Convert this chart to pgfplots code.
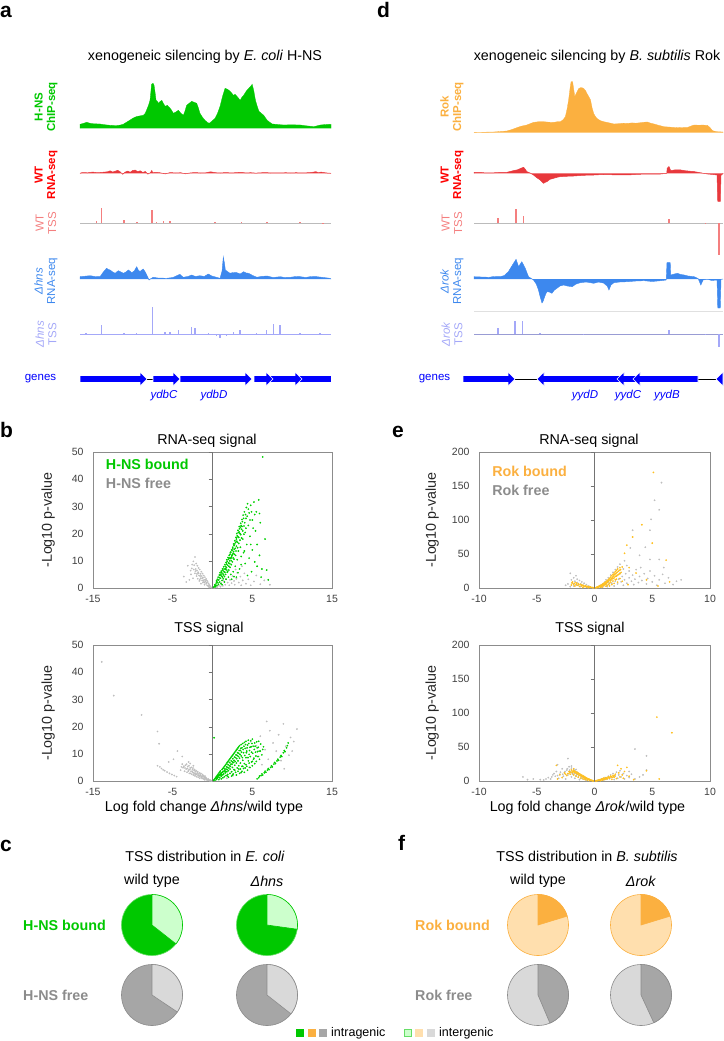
\documentclass[border=0pt]{standalone}
\usepackage{fontspec}
\setmainfont{Liberation Sans}
\usepackage{pgfplots}
\pgfplotsset{compat=1.18}
\usepgfplotslibrary{polar}

\definecolor{hnsG}{HTML}{00C800}
\definecolor{ptG}{HTML}{00D000}
\definecolor{lgtG}{HTML}{CCFFCC}
\definecolor{edgeG}{HTML}{66DD66}
\definecolor{rokO}{HTML}{FBB040}
\definecolor{ptO}{HTML}{FFC020}
\definecolor{lgtO}{HTML}{FFDFAE}
\definecolor{wtR}{HTML}{E8383C}
\definecolor{lblR}{HTML}{FF0000}
\definecolor{tssR}{HTML}{F47F7F}
\definecolor{dB}{HTML}{3D88EE}
\definecolor{tssB}{HTML}{A4A8F8}
\definecolor{geneB}{HTML}{0000FF}
\definecolor{gD}{HTML}{A6A6A6}
\definecolor{gL}{HTML}{D9D9D9}
\definecolor{gE}{HTML}{8C8C8C}
\definecolor{ptGr}{HTML}{BEBEBE}
\definecolor{baseG}{HTML}{BBBBBB}

\newcommand\fbig{\fontsize{14.3}{16}\selectfont}
\newcommand\ftrk{\fontsize{11.5}{12.5}\selectfont}
\newcommand\ftick{\fontsize{10.5}{12}\selectfont}

\pgfplotsset{
  trackA/.style={hide axis, scale only axis, anchor=south west, width=251pt,
    xmin=0, xmax=100, y=1pt, clip=false},
  trackD/.style={trackA, width=249pt},
  genes/.style={hide axis, scale only axis, anchor=south west, x=1pt, y=1pt,
    ymin=-8, ymax=8, clip=false},
  volc/.style={scale only axis, anchor=south west, height=136pt,
    axis line style={draw=black!45}, major tick length=0pt,
    tick label style={font=\ftick, text=black!75},
    /pgf/number format/assume math mode=true,
    yticklabel style={xshift=-6pt}, xticklabel style={yshift=-4pt},
    label style={font=\fbig, text=black!85}},
  zeroline/.style={scale only axis, anchor=south west, height=136pt,
    axis x line=none, axis y line=center, axis line style={draw=black!55, -},
    yticklabels={}, xtick=\empty, tick align=outside, major tick length=4pt,
    ytick style={draw=black!55}},
  pts/.style={only marks, mark=*, mark size=0.65pt},
  pie/.style={hide axis, scale only axis, width=61pt, height=61pt, anchor=center,
    xmin=0, xmax=360, ymin=0, ymax=1, clip=false},
}

\begin{document}
\begin{tikzpicture}
\useasboundingbox (0pt,0pt) rectangle (723pt,-1041pt);

% ---------------- panel letters and titles
\begin{scope}[every node/.style={inner sep=0pt, anchor=base west, font=\fontsize{21}{21}\selectfont\bfseries}]
\node at (0pt,-18pt) {a};
\node at (377pt,-18pt) {d};
\node at (0pt,-437pt) {b};
\node at (392pt,-437pt) {e};
\node at (0pt,-851pt) {c};
\node at (398pt,-850pt) {f};
\end{scope}
\node[font=\fbig] at (205pt,-57pt) {xenogeneic silencing by \textit{E. coli} H-NS};
\node[font=\fbig] at (597pt,-57pt) {xenogeneic silencing by \textit{B. subtilis} Rok};

% ---------------- track labels
\begin{scope}[every node/.style={rotate=90, align=center, font=\ftrk, inner sep=0pt}]
\node[text=hnsG, font=\ftrk\bfseries] at (46pt,-107pt) {H-NS\\ChIP-seq};
\node[text=lblR, font=\ftrk\bfseries] at (46pt,-175pt) {WT\\RNA-seq};
\node[text=tssR] at (46pt,-223pt) {WT\\TSS};
\node[text=dB] at (46pt,-281pt) {\textit{Δhns}\\RNA-seq};
\node[text=tssB] at (46pt,-334pt) {\textit{Δhns}\\TSS};
\node[text=rokO, font=\ftrk\bfseries] at (452pt,-107pt) {Rok\\ChIP-seq};
\node[text=lblR, font=\ftrk\bfseries] at (452pt,-175pt) {WT\\RNA-seq};
\node[text=tssR] at (452pt,-223pt) {WT\\TSS};
\node[text=dB] at (452pt,-281pt) {\textit{Δrok}\\RNA-seq};
\node[text=tssB] at (452pt,-334pt) {\textit{Δrok}\\TSS};
\end{scope}
\node[text=geneB, font=\ftrk] at (40.5pt,-379pt) {genes};
\node[text=geneB, font=\ftrk] at (434.5pt,-379pt) {genes};
\begin{scope}[every node/.style={text=geneB, font=\ftrk\itshape}]
\node at (164pt,-396pt) {ydbC};
\node at (214pt,-396pt) {ydbD};
\node at (585pt,-396pt) {yydD};
\node at (628pt,-396pt) {yydC};
\node at (667pt,-396pt) {yydB};
\end{scope}

% ================= panel a tracks
\begin{axis}[trackA, at={(80pt,-128.3pt)}, ymin=0, ymax=46]
\addplot[fill=hnsG, draw=hnsG, line width=0.3pt] coordinates {
(0,0)(0,4)(1.5,5)(2.7,6)(4,5)(5.5,4.5)(7.9,4.3)(10,3.5)(12,3)(14.5,2.7)(16,3.2)(17.2,4)
(18.5,6)(19.8,8)(21,10)(22.5,11.7)(24,12.5)(25.2,13)(26,15)(26.5,18)(27.3,23)(27.9,28)
(28.3,38)(28.5,44)(29.1,45)(29.5,43)(29.9,36)(30.3,28)(30.8,27)(31.2,25)(32,27)(32.6,28)
(33.2,25)(33.9,22)(34.8,23)(35.9,20)(36.5,18)(37.2,15)(38,16)(39.2,18)(40.2,15)(41.2,13)
(41.8,17)(42.5,23)(43.5,25)(44.5,27)(45.5,26)(46.5,25)(47.2,20)(47.8,15)(48.8,11)(49.8,8)
(50.7,6)(51.5,5)(52.5,7)(53.8,10)(54.8,15)(55.8,22)(56.8,32)(57.8,40)(58.8,39)(59.8,37)
(60.5,35)(61.1,33)(61.8,34)(62.5,32)(63.2,30)(63.8,28)(64.5,31)(65.2,33)(66.2,37)(67.2,40)
(68,42)(68.6,44)(69.2,38)(69.9,28)(70.6,22)(71.3,17)(72.2,15)(73.2,13)(74,10)(74.6,8)
(75.6,6)(76.6,4.3)(78,4)(80,3.5)(81.2,3.3)(84,3.5)(87.8,3.3)(90,2.5)(93.2,1.7)(94.5,2.5)
(95.8,3.3)(98,3.8)(100,4)(100,0)};
\end{axis}

\begin{axis}[trackA, at={(80pt,-178.3pt)}, ymin=-5, ymax=5]
\addplot[fill=wtR, draw=wtR, line width=0.5pt] coordinates {
(0,0)(1,0.8)(3,0.5)(5,1.2)(7,0.6)(9,1.0)(11,1.5)(12,2.5)(13,1.2)(14,2.0)(15,3.0)(16,1.5)
(17,-1.0)(18,1.2)(19,2.2)(20,1.0)(21,2.8)(22,3.2)(23,1.5)(24,2.5)(25,0.8)(26,1.8)(27,-0.8)
(28,0.5)(28.6,2.8)(29,0.5)(30,1.0)(32,0.5)(34,-0.6)(36,0.8)(38,0.3)(40,0.6)(42,-0.5)(44,0.4)
(46,0.8)(48,0.3)(50,0.5)(52,1.5)(54,0.6)(56,0.3)(58,0.8)(60,0.4)(62,0.6)(64,1.0)(66,0.4)
(68,0.6)(70,0.2)(72,0.5)(74,0.8)(76,0.3)(78,0.5)(80,0.4)(82,0.6)(84,0.3)(86,0.6)(88,0.4)
(90,0.5)(92,0.8)(94,1.6)(95,0.6)(96,1.2)(98,0.4)(100,0)};
\end{axis}

\begin{axis}[trackA, at={(80pt,-226.3pt)}, ymin=-3, ymax=16]
\addplot[baseG, line width=0.8pt] coordinates {(0,0)(100,0)};
\addplot[ycomb, tssR, line width=1.6pt] coordinates {
(6.6,2.7)(8.6,15)(17.5,3)(22.6,1.5)(28.6,13)(30.5,1.5)(33.2,2)(35.9,2)(53.8,1.5)(64.4,1.5)
(74.4,1)(87.6,1)(96.9,-1)};
\end{axis}

\begin{axis}[trackA, at={(80pt,-282pt)}, ymin=-3, ymax=23]
\addplot[fill=dB, draw=dB, line width=0.4pt] coordinates {
(0,0)(0,2.3)(2,2.8)(4,3.3)(6,2.5)(8,2.3)(9.3,7)(10,9)(10.6,10.7)(11.3,9.5)(12,9)(13,7)(14,5.7)
(14.6,7)(15.3,8.3)(16.3,7)(17.3,5.7)(18.3,7)(19.3,9)(20.6,6.3)(21.6,8)(22.6,12.3)(23.2,9)
(23.9,7.3)(24.6,9)(25.2,10)(26,7)(26.6,4)(27.5,-1)(28.3,0.5)(29.2,1.7)(31,1)(34.5,0.7)
(37,1.5)(39.8,4.7)(41.1,1.7)(43,2.5)(44.5,4)(46,2.5)(47.8,3.3)(49.5,2.5)(51.1,5)(52.5,3)
(54.4,1.7)(55.8,0.7)(56.6,8)(57.1,22)(57.6,15)(57.9,9)(59,7)(59.8,5.7)(61,6.5)(62.5,6.3)
(63.8,5)(65.2,7.3)(66.2,6)(67.2,5.7)(68.8,3.5)(70.5,1.7)(72,2.5)(74.5,3)(77,1.5)(79.8,2.3)
(81.5,1.5)(83.8,1.7)(86,2.5)(87.8,2.3)(90,1.5)(92,2.5)(94.4,2.3)(97,1.5)(99.6,0.7)(100,0)};
\end{axis}

\begin{axis}[trackA, at={(80pt,-339.3pt)}, ymin=-5, ymax=28]
\addplot[tssB, line width=0.8pt] coordinates {(0,0)(100,0)};
\addplot[ycomb, tssB, line width=1.4pt] coordinates {
(2.4,1)(8.6,9.3)(17.5,1)(22.6,1)(28.9,27)(33.9,2)(35.9,2)(39.2,4)(44.5,7)(45.8,6)(51.1,1)
(54.4,-2)(55.8,-4)(58.4,-2)(61.1,2)(63.7,4)(70.4,1)(74.4,4)(77,10)(79.7,9)(87.6,1)(95.6,1)};
\end{axis}

\begin{axis}[genes, at={(80pt,-387pt)}, xmin=0, xmax=251]
\addplot[black, line width=0.6pt] coordinates {(67,0)(73,0)};
\addplot[fill=geneB, draw=white, line width=0.6pt] coordinates {(215,-3.5)(251,-3.5)(251,3.5)(215,3.5)} -- cycle;
\addplot[fill=geneB, draw=white, line width=0.6pt] coordinates {(186,-3.5)(215,-3.5)(215,-7)(222,0)(215,7)(215,3.5)(186,3.5)} -- cycle;
\addplot[fill=geneB, draw=white, line width=0.6pt] coordinates {(174,-3.5)(186,-3.5)(186,-7)(193,0)(186,7)(186,3.5)(174,3.5)} -- cycle;
\addplot[fill=geneB, draw=white, line width=0.6pt] coordinates {(100,-3.5)(165,-3.5)(165,-7)(172,0)(165,7)(165,3.5)(100,3.5)} -- cycle;
\addplot[fill=geneB, draw=white, line width=0.6pt] coordinates {(73,-3.5)(93,-3.5)(93,-7)(100,0)(93,7)(93,3.5)(73,3.5)} -- cycle;
\addplot[fill=geneB, draw=white, line width=0.6pt] coordinates {(0,-3.5)(60,-3.5)(60,-7)(67,0)(60,7)(60,3.5)(0,3.5)} -- cycle;
\end{axis}

% ================= panel d tracks
\begin{axis}[trackD, at={(474pt,-132.7pt)}, ymin=0, ymax=52]
\addplot[fill=rokO, draw=rokO, line width=0.3pt] coordinates {
(0,0)(0,0.3)(4,0.5)(7.8,0.7)(10.5,1.2)(13.2,1.7)(15,3)(17.2,5)(19,6.5)(21.2,7.7)(22.5,9)
(23.9,10.3)(26,11)(27.9,11)(30,10.5)(32,10.3)(33.5,11)(34.7,11)(35.8,13)(36.7,16)(37.4,24)
(38,32.7)(38.6,45)(39,51)(39.6,51)(40,44)(40.5,36)(41,39)(41.4,41)(42,44)(42.7,45)(43.4,45)
(44.1,44)(44.8,42)(45.4,39)(46.1,36)(46.8,32.7)(47.4,25)(48.1,19)(48.8,16)(49.5,14)(50.8,12)
(52.1,11)(54,10)(56.2,8.7)(58,9)(60,9.5)(61.6,9.3)(63.5,9.8)(65,9.5)(66.9,10)(68.5,10.5)
(69.6,10.7)(71,9.5)(72.3,8.7)(74,7.5)(76.3,6)(79,5.5)(81.7,5)(84,5.2)(85.8,5.3)(87,6.5)
(88.4,7.7)(90,7.5)(92,7.6)(93.8,7.3)(94.8,5)(95.8,2)(97.5,1)(100,0.7)(100,0)};
\end{axis}

\begin{axis}[trackD, at={(474pt,-203.3pt)}, ymin=-30, ymax=8]
\addplot[fill=wtR, draw=wtR, line width=0.5pt] coordinates {
(0,0)(0,1)(3,0.8)(5,0.3)(7.8,0.5)(10,0.8)(13.2,1)(14.5,1.8)(15.9,2.7)(17.5,3.5)(18.8,5)
(19.9,6)(20.6,4)(21.2,1.7)(22.5,0.3)(23.9,-1.7)(25,-4)(26.6,-6.7)(27.3,-8.5)(27.9,-10)
(28.6,-9)(29.3,-8.3)(30.5,-6)(32,-5)(33.3,-4)(34.7,-3.3)(37,-3)(40,-2.7)(44,-2)(48.1,-1.7)
(52,-1.2)(56,-1.5)(61.6,-1.7)(66,-1)(70,-0.8)(75,-0.7)(77.4,0)(77.6,5)(78.3,6.7)(79,2.7)
(81,3.5)(83.1,3.3)(85,2.5)(88.4,1.7)(91,0.5)(93.8,-0.7)(96,-1.2)(97.6,-1.7)(97.9,-28)
(98.9,-28)(99.2,-1.7)(100,-0.5)(100,0)};
\end{axis}

\begin{axis}[trackD, at={(474pt,-256.3pt)}, ymin=-33, ymax=15]
\addplot[baseG, line width=0.8pt] coordinates {(0,0)(100,0)};
\addplot[ycomb, tssR, line width=1.6pt] coordinates {
(9.7,5)(16.9,14)(19.8,7)(78.2,4)(93,0.7)(98.4,-32)};
\end{axis}

\begin{axis}[trackD, at={(474pt,-309pt)}, ymin=-30, ymax=22]
\addplot[fill=dB, draw=dB, line width=0.4pt] coordinates {
(0,0)(0,2.3)(3,2)(6,1.7)(8,2.5)(10.5,2.3)(12.2,3.5)(13.8,7.3)(15.2,13)(16.2,17)(16.9,19.7)
(17.4,16)(17.9,12.3)(18.6,15)(19.2,17.3)(19.9,14)(20.6,10.7)(21.3,6)(21.9,2.3)(23,0.5)
(23.9,-1)(25,-5)(25.9,-11)(26.6,-18)(27.3,-24)(27.8,-22)(28.2,-19)(28.8,-15)(29.3,-12.7)
(30.3,-13)(31.3,-14.3)(32.3,-11)(33.3,-9.3)(34.5,-7)(36,-6)(37.5,-7)(39.4,-7.7)(41,-5)
(42.7,-3.7)(45,-3)(48.1,-4.3)(50,-3)(52,-4)(53.5,-7)(54.2,-11)(55,-6)(56.2,-3.7)(58.5,-3)
(61.6,-2.7)(65,-2)(68.3,-1.7)(71.5,-2.5)(75,-1.7)(77.2,-1)(77.5,16.3)(78.8,16.3)(79,4)
(80.5,5)(81.7,5.7)(83,4.5)(84.4,4)(86,3)(88.4,2.3)(90,0.5)(91.1,-6)(92,-1)(93.8,-0.3)
(95.5,-1.5)(97.6,-1)(97.9,-29)(98.9,-29)(99.2,-0.3)(100,0)};
\end{axis}

\begin{axis}[trackD, at={(474pt,-348pt)}, ymin=-14, ymax=23]
\addplot[black!12, line width=0.6pt] coordinates {(0,22.3)(100,22.3)};
\addplot[tssB!70!gray, line width=0.8pt] coordinates {(0,0)(100,0)};
\addplot[ycomb, tssB, line width=1.6pt] coordinates {
(9.7,6)(16.5,13)(19.4,13)(26.6,0.7)(44,0.5)(78.2,4)(93,0.5)(98.4,-13)};
\end{axis}

\begin{axis}[genes, at={(463pt,-387pt)}, xmin=0, xmax=260]
\addplot[black, line width=0.6pt] coordinates {(52,0)(74,0)};
\addplot[black, line width=0.6pt] coordinates {(235,0)(253,0)};
\addplot[fill=geneB, draw=white, line width=0.6pt] coordinates {(0,-3.5)(45,-3.5)(45,-7)(52,0)(45,7)(45,3.5)(0,3.5)} -- cycle;
\addplot[fill=geneB, draw=white, line width=0.6pt] coordinates {(74,0)(81,-7)(81,-3.5)(161,-3.5)(161,3.5)(81,3.5)(81,7)} -- cycle;
\addplot[fill=geneB, draw=white, line width=0.6pt] coordinates {(154,0)(161,-7)(161,-3.5)(177,-3.5)(177,3.5)(161,3.5)(161,7)} -- cycle;
\addplot[fill=geneB, draw=white, line width=0.6pt] coordinates {(170,0)(177,-7)(177,-3.5)(235,-3.5)(235,3.5)(177,3.5)(177,7)} -- cycle;
\addplot[fill=geneB, draw=white, line width=0.6pt] coordinates {(253,0)(260,-7)(260,7)} -- cycle;
\end{axis}

% ================= panel b volcano plots
\node[font=\fbig] at (207pt,-441pt) {RNA-seq signal};
\begin{axis}[volc, at={(93pt,-588pt)}, width=239pt, xmin=-15, xmax=15, ymin=0, ymax=50,
  xtick={-15,-5,5,15}, xticklabels={-15,-5,5,15}, ytick={0,10,...,50},
  ylabel={-Log10 p-value}, ylabel style={at={(axis description cs:-0.188,0.5)}, anchor=center}]
\addplot[pts, ptGr] coordinates {
(-0.1,0.1)(-0.2,0.3)(-0.3,0.7)(-0.35,0.2)(-0.4,1.1)(-0.5,0.5)(-0.5,1.6)(-0.6,2.2)(-0.65,0.9)
(-0.7,2.7)(-0.8,1.5)(-0.8,3.3)(-0.9,2.4)(-0.95,4.0)(-1.0,1.2)(-1.05,3.0)(-1.1,4.6)(-1.2,2.0)
(-1.2,3.8)(-1.25,5.3)(-1.3,2.8)(-1.35,4.4)(-1.4,6.0)(-1.45,1.6)(-1.5,3.6)(-1.5,5.2)(-1.6,6.8)
(-1.65,2.6)(-1.7,4.6)(-1.75,7.4)(-1.8,5.8)(-1.85,3.4)(-1.9,8.2)(-1.95,6.4)(-2.0,4.4)(-2.05,9.0)
(-2.1,7.0)(-2.2,11.4)(-2.2,5.4)(-2.3,8.4)(-2.4,9.8)(-2.45,3.6)(-2.6,7.2)(-2.7,5.0)(-2.9,3.0)
(-3.1,8.2)(-3.6,4.2)(-3.3,2.2)
(-0.45,0.8)(-0.75,1.9)(-0.9,3.0)(-1.15,2.6)(-1.3,3.6)(-1.55,4.4)(-1.75,5.4)(-1.95,5.2)
(-2.15,6.2)(-2.35,6.8)(-2.55,8.6)(-2.75,6.4)(-1.6,3.0)(-1.0,2.0)
(0.2,0.1)(0.4,0.3)(0.6,0.4)(0.8,0.9)(1.0,0.5)(1.1,1.8)(1.3,0.8)(1.4,2.6)(1.6,1.2)(1.7,3.4)
(1.9,2.0)(2.1,1.0)(2.2,3.0)(2.4,1.8)(2.5,4.4)(2.7,2.6)(2.8,1.2)(3.0,3.4)(3.1,5.6)(3.3,2.0)
(3.5,4.2)(3.6,1.0)(3.8,2.8)(4.0,5.4)(4.2,1.6)(4.5,3.2)(4.8,1.0)(5.2,2.4)(5.5,4.6)(6.0,1.4)
(6.5,2.8)(7.2,1.2)(3.7,8.0)(2.9,6.8)};
\addplot[pts, ptG] coordinates {
(0.15,0.3)(0.25,0.6)(0.3,1.2)(0.4,0.5)(0.45,1.8)(0.5,2.6)(0.55,1.0)(0.6,3.2)(0.65,2.0)(0.7,4.0)
(0.75,1.4)(0.8,3.0)(0.85,4.8)(0.9,2.2)(0.95,5.6)(1.0,3.6)(1.05,1.6)(1.1,6.2)(1.15,4.4)(1.2,2.8)
(1.25,7.0)(1.3,5.2)(1.35,3.4)(1.4,7.8)(1.45,6.0)(1.5,2.2)(1.5,4.2)(1.55,8.6)(1.6,6.8)(1.65,5.0)
(1.7,9.4)(1.7,3.2)(1.75,7.6)(1.8,10.4)(1.85,5.8)(1.9,8.4)(1.95,11.2)(2.0,4.0)(2.0,9.2)(2.05,6.6)
(2.1,12.0)(2.15,10.0)(2.2,7.6)(2.25,13.0)(2.3,5.0)(2.3,10.8)(2.35,8.6)(2.4,14.0)(2.45,12.0)
(2.5,9.6)(2.55,15.0)(2.6,6.0)(2.6,12.8)(2.65,16.2)(2.7,10.6)(2.75,14.2)(2.8,17.4)(2.85,8.0)
(2.9,12.0)(2.95,18.6)(3.0,15.4)(3.05,20.0)(3.1,10.4)(3.15,16.8)(3.2,21.2)(3.25,13.6)(3.3,18.6)
(3.35,22.6)(3.4,7.0)(3.45,20.0)(3.5,15.0)(3.55,23.8)(3.6,11.6)(3.65,21.6)(3.7,25.2)(3.8,18.0)
(3.85,26.8)(3.9,13.0)(3.95,22.8)(4.0,28.0)(4.1,9.0)(4.1,20.4)(4.2,25.6)(4.25,29.6)(4.3,16.0)
(4.4,31.0)(4.5,23.0)(4.6,11.0)(4.6,27.6)(4.7,19.0)(4.8,30.4)(4.9,6.0)(5.0,14.0)(5.0,25.0)
(5.2,31.6)(5.3,9.6)(5.4,21.0)(5.5,28.0)(5.6,16.0)(5.8,32.4)(5.9,12.0)(6.0,24.0)(6.2,7.0)
(6.3,48.2)(6.6,18.0)(6.8,6.6)(7.0,3.0)(3.0,4.0)(2.4,3.2)(1.2,1.2)(4.4,4.6)
(0.35,0.9)(0.55,2.2)(0.7,2.9)(0.85,3.8)(0.95,4.6)(1.05,5.0)(1.15,5.6)(1.25,4.0)(1.3,6.4)
(1.4,4.8)(1.45,7.0)(1.55,5.8)(1.6,8.0)(1.65,7.2)(1.75,8.8)(1.8,6.6)(1.85,9.8)(1.9,6.0)
(2.0,10.6)(2.05,8.0)(2.1,11.0)(2.15,9.0)(2.2,12.4)(2.25,11.0)(2.3,13.2)(2.35,10.0)(2.4,11.4)
(2.45,13.8)(2.5,12.4)(2.55,14.4)(2.6,11.0)(2.65,13.4)(2.7,15.6)(2.75,12.4)(2.8,16.2)(2.85,14.6)
(2.9,16.8)(2.95,13.6)(3.0,18.0)(3.05,17.2)(3.1,19.2)(3.15,14.8)(3.2,18.8)(3.25,20.4)(3.3,16.4)
(3.35,20.6)(3.4,21.8)(3.45,17.6)(3.5,22.4)(3.55,19.6)(3.6,23.0)(3.65,18.4)(3.7,22.6)(3.75,24.4)
(3.8,21.0)(3.9,25.6)(3.95,19.8)(4.05,24.0)(4.15,27.0)(4.2,22.0)(4.35,26.4)(4.5,29.0)(4.7,25.0)
(4.9,28.0)(5.1,22.0)(5.3,27.0)(3.6,8.6)(3.2,5.6)(2.7,4.2)(4.0,13.6)(4.8,16.0)(5.6,8.0)
(6.1,4.0)(5.9,27.4)};
\node[anchor=west, inner sep=0pt, font=\fbig\bfseries, text=hnsG] at (axis cs:-13.4,45.3) {H-NS bound};
\node[anchor=west, inner sep=0pt, font=\fbig\bfseries, text=gE] at (axis cs:-13.4,38.3) {H-NS free};
\end{axis}
\begin{axis}[zeroline, at={(93pt,-588pt)}, width=239pt, xmin=-15, xmax=15, ymin=0, ymax=50, ytick={10,20,...,50}]
\end{axis}

\node[font=\fbig] at (209pt,-629pt) {TSS signal};
\begin{axis}[volc, at={(93pt,-781pt)}, width=239pt, xmin=-15, xmax=15, ymin=0, ymax=50,
  xtick={-15,-5,5,15}, xticklabels={-15,-5,5,15}, ytick={0,10,...,50},
  ylabel={-Log10 p-value}, ylabel style={at={(axis description cs:-0.188,0.5)}, anchor=center}]
\addplot[pts, ptGr] coordinates {
(-0.1,0.05)(-0.2,0.1)(-0.3,0.2)(-0.4,0.15)(-0.5,0.4)(-0.6,0.3)(-0.7,0.6)(-0.8,0.4)(-0.9,0.9)
(-1.0,0.5)(-1.0,1.2)(-1.1,0.8)(-1.2,1.5)(-1.3,0.9)(-1.3,1.9)(-1.4,1.3)(-1.5,2.2)(-1.6,1.0)
(-1.6,1.7)(-1.7,2.6)(-1.8,1.4)(-1.8,2.1)(-1.9,3.0)(-2.0,1.6)(-2.0,2.4)(-2.1,3.4)(-2.2,1.9)
(-2.2,2.8)(-2.3,3.8)(-2.4,2.2)(-2.5,3.2)(-2.5,4.3)(-2.6,2.5)(-2.7,3.6)(-2.8,4.8)(-2.9,2.8)
(-3.0,4.0)(-3.1,5.3)(-3.2,3.2)(-3.3,4.4)(-3.4,5.8)(-3.5,3.6)(-3.7,4.9)(-3.8,6.2)(-4.0,4.0)
(-2.8,6.4)(-2.4,5.6)(-3.0,7.0)
(-0.25,0.3)(-0.45,0.5)(-0.55,0.8)(-0.75,1.0)(-0.85,1.4)(-0.95,1.8)(-1.05,1.6)(-1.15,2.0)
(-1.25,2.4)(-1.35,1.6)(-1.45,2.8)(-1.55,2.0)(-1.65,3.0)(-1.75,2.0)(-1.85,3.4)(-1.95,2.6)
(-2.05,3.8)(-2.15,2.4)(-2.25,4.2)(-2.35,3.0)(-2.45,4.8)(-2.55,3.6)(-2.65,5.0)(-2.75,2.8)
(-2.85,4.2)(-2.95,5.6)(-3.05,3.6)(-3.15,4.6)(-3.25,6.2)(-3.45,4.8)(-3.6,5.4)(-3.9,5.2)
(-4.5,1.6)(-4.8,2.0)(-5.1,2.4)(-5.4,2.8)(-5.7,3.3)(-6.0,3.8)(-6.2,4.1)(-6.4,4.6)(-6.6,5.2)(-6.9,5.6)
(-13.9,43.8)(-12.4,31.4)(-8.9,24.3)(-6.9,18.2)(-6.7,13.7)(-4.4,11.0)(-4.9,8.0)(-3.8,9.0)(-5.5,7.0)
(6.8,21.9)(8.9,21.0)(10.6,19.1)(7.2,18.5)(8.3,17.0)(9.8,16.0)(6.0,16.5)(7.6,14.0)(9.2,12.8)
(5.5,13.0)(8.0,11.0)(6.6,11.5)(10.2,14.5)(9.6,9.5)(7.0,8.0)(8.6,7.5)(5.8,9.0)(4.8,14.5)
(4.2,12.0)(6.2,6.0)(9.0,4.5)(10.0,11.0)(3.6,3.0)(2.6,2.0)(1.8,1.0)(4.6,5.0)};
\addplot[pts, ptG] coordinates {
(0.1,0.2)(0.2,0.5)(0.3,0.3)(0.3,0.9)(0.4,1.3)(0.5,0.6)(0.5,1.7)(0.6,1.0)(0.6,2.1)(0.7,1.4)
(0.7,2.5)(0.8,0.5)(0.8,1.9)(0.8,2.9)(0.9,1.2)(0.9,3.3)(1.0,2.4)(1.0,3.7)(1.1,0.8)(1.1,1.8)
(1.1,3.0)(1.2,4.2)(1.2,2.2)(1.3,1.2)(1.3,3.4)(1.3,4.6)(1.4,2.6)(1.4,5.0)(1.5,1.6)(1.5,3.8)
(1.5,5.4)(1.6,3.0)(1.6,5.8)(1.7,2.0)(1.7,4.4)(1.7,6.2)(1.8,3.4)(1.8,6.6)(1.9,2.4)(1.9,5.0)
(1.9,7.0)(2.0,1.4)(2.0,3.8)(2.0,7.4)(2.1,5.6)(2.1,7.8)(2.2,2.8)(2.2,4.4)(2.2,8.2)(2.3,6.2)
(2.3,8.6)(2.4,1.8)(2.4,3.4)(2.4,9.0)(2.5,5.0)(2.5,7.0)(2.5,9.4)(2.6,2.6)(2.6,9.8)(2.7,4.2)
(2.7,7.6)(2.7,10.2)(2.8,5.8)(2.8,10.6)(2.9,3.2)(2.9,8.6)(2.9,11.0)(3.0,2.2)(3.0,6.6)(3.0,11.4)
(3.1,4.8)(3.1,9.4)(3.1,11.8)(3.2,3.6)(3.2,7.4)(3.2,12.2)(3.3,5.6)(3.3,10.2)(3.3,12.6)(3.4,2.8)
(3.4,8.4)(3.4,13.0)(3.5,4.4)(3.5,6.6)(3.5,11.2)(3.6,13.4)(3.6,9.2)(3.7,3.6)(3.7,5.4)(3.7,12.2)
(3.8,7.6)(3.8,13.8)(3.9,4.6)(3.9,10.4)(4.0,6.4)(4.0,14.2)(4.0,3.2)(4.1,12.0)(4.2,8.6)(4.2,14.6)
(4.3,5.4)(4.3,11.0)(4.4,4.0)(4.4,13.2)(4.5,7.4)(4.5,15.0)(4.6,9.8)(4.7,5.0)(4.7,12.4)(4.8,14.8)
(4.9,7.0)(4.9,10.6)(5.0,5.6)(5.0,15.4)(5.1,12.8)(5.2,8.4)(5.3,6.4)(5.3,14.0)(5.4,10.6)(5.5,7.2)
(5.6,12.2)(5.7,9.0)(5.8,14.6)(5.9,8.0)(6.0,11.0)(6.2,9.6)(6.4,12.6)(0.2,15.9)
(0.45,1.0)(0.55,1.3)(0.65,1.7)(0.75,2.0)(0.85,2.4)(0.95,2.0)(1.05,2.8)(1.15,2.5)(1.25,3.2)
(1.35,2.4)(1.45,3.6)(1.55,4.4)(1.65,3.6)(1.75,5.2)(1.85,4.2)(1.95,6.0)(2.05,4.8)(2.15,6.8)
(2.25,5.4)(2.35,7.4)(2.45,6.2)(2.55,8.2)(2.65,6.8)(2.75,8.8)(2.85,7.2)(2.95,9.6)(3.05,8.2)
(3.15,10.4)(3.25,9.0)(3.35,11.2)(3.45,9.8)(3.55,12.0)(3.65,10.6)(3.75,8.6)(3.85,11.6)(3.95,12.8)
(4.05,9.4)(4.15,13.4)(4.25,10.4)(4.35,12.2)(4.45,8.6)(4.55,13.8)(4.65,11.2)(4.75,9.0)(4.85,12.6)
(4.95,13.8)(5.05,10.2)(5.15,8.0)(5.25,11.6)(5.35,12.8)(5.45,9.2)(5.55,14.4)(5.65,10.8)(5.75,12.4)
(5.85,11.0)(6.05,13.6)(6.3,11.6)(2.8,4.0)(3.3,4.4)(3.8,5.4)(4.2,6.0)(4.6,6.6)(5.0,7.2)(4.1,4.8)
(3.6,3.2)(2.5,2.2)(1.9,1.8)
(5.6,0.8)(5.8,1.2)(5.9,1.8)(6.1,2.0)(6.2,2.6)(6.3,2.2)(6.5,3.0)(6.6,3.6)(6.7,3.2)(6.9,4.0)
(7.0,4.6)(7.1,4.2)(7.3,5.0)(7.4,5.6)(7.5,5.2)(7.7,6.2)(7.8,6.8)(7.9,6.4)(8.1,7.4)(8.2,8.0)
(8.3,7.6)(8.5,8.8)(8.6,9.4)(8.7,9.0)(8.9,10.4)(9.0,11.2)(9.1,10.8)(9.3,12.2)(9.4,13.0)(9.5,14.0)};
\end{axis}
\begin{axis}[zeroline, at={(93pt,-781pt)}, width=239pt, xmin=-15, xmax=15, ymin=0, ymax=50, ytick={10,20,...,50}]
\end{axis}
\node[font=\fbig] at (204pt,-808pt) {Log fold change \textit{Δhns}/wild type};

% ================= panel e volcano plots
\node[font=\fbig] at (589pt,-441pt) {RNA-seq signal};
\begin{axis}[volc, at={(479pt,-588pt)}, width=231pt, xmin=-10, xmax=10, ymin=0, ymax=200,
  xtick={-10,-5,0,5,10}, xticklabels={-10,-5,0,5,10}, ytick={0,50,...,200},
  ylabel={-Log10 p-value}, ylabel style={at={(axis description cs:-0.203,0.5)}, anchor=center}]
\addplot[pts, ptGr] coordinates {
(-0.2,0.5)(-0.4,1.5)(-0.5,3)(-0.6,1)(-0.7,5)(-0.8,2.5)(-0.9,7)(-1.0,4)(-1.1,9)(-1.2,2)(-1.2,6)
(-1.3,11)(-1.4,4)(-1.5,8)(-1.5,13)(-1.6,5)(-1.7,10)(-1.8,15)(-1.8,3)(-1.9,7)(-2.0,12)(-2.1,21.6)
(-2.1,2)(-2.3,6)(-1.6,18)(-2.5,4)
(0.2,0.5)(0.4,2)(0.5,4)(0.6,1)(0.7,6)(0.8,3)(0.9,9)(1.0,5)(1.0,12)(1.1,2)(1.2,8)(1.2,15)(1.3,4)
(1.4,11)(1.4,19)(1.5,7)(1.6,14)(1.6,23)(1.7,3)(1.8,10)(1.8,27)(1.9,18)(2.0,6)(2.0,31)(2.1,13)
(2.2,22)(2.2,35)(2.3,9)(2.4,17)(2.5,28)(2.5,4)(2.6,12)(2.7,21)(2.8,7)(2.8,33)(3.0,15)(3.0,25)
(3.2,10)(3.3,19)(3.4,5)(3.5,13)(3.6,27)(3.8,8)(3.9,17)(4.0,30)(4.1,11)(4.3,21)(4.5,6)(4.6,14)
(4.8,25)(5.0,9)(5.2,18)(5.4,4)(5.6,12)(5.9,20)(6.1,7)(6.4,15)(6.8,5)(7.1,10)(7.5,12)(3.1,59)
(4.8,42)(5.6,42)(5.8,155)(5.2,129)(5.6,115)(4.9,101)(4.8,85)(3.3,85)(4.4,60)(3.9,48)(2.6,40)(6.0,30)};
\addplot[pts, ptO] coordinates {
(-0.1,0.3)(-0.3,0.8)(-0.4,1.6)(-0.5,0.5)(-0.6,2.4)(-0.7,1.2)(-0.8,3.2)(-0.9,2.0)(-1.0,4.2)
(-1.0,1.0)(-1.1,3.0)(-1.2,5.2)(-1.3,2.2)(-1.4,6.4)(-1.5,4.0)(-1.6,7.6)(-1.7,3.0)(-1.8,5.6)
(-1.9,9.0)(-2.0,4.4)
(0.1,0.3)(0.2,1.0)(0.3,0.6)(0.3,1.8)(0.4,2.6)(0.5,1.2)(0.5,3.6)(0.6,4.6)(0.6,2.2)(0.7,5.6)
(0.7,1.4)(0.8,3.6)(0.8,6.8)(0.9,8.0)(0.9,4.8)(1.0,2.6)(1.0,9.4)(1.0,6.2)(1.1,11.0)(1.1,3.8)
(1.1,8.0)(1.2,12.6)(1.2,5.4)(1.2,9.8)(1.3,14.2)(1.3,7.0)(1.3,3.0)(1.4,16.0)(1.4,11.4)(1.4,8.6)
(1.5,18.0)(1.5,5.0)(1.5,13.2)(1.6,20.0)(1.6,10.2)(1.7,22.0)(1.7,15.0)(1.7,6.8)(1.8,24.0)
(1.8,12.0)(1.9,26.0)(1.9,17.4)(2.0,8.6)(2.0,28.0)(2.1,20.0)(2.2,14.0)(2.2,30.0)(2.3,23.0)
(2.4,10.0)(2.4,31.0)
(0.15,0.6)(0.25,1.4)(0.35,2.2)(0.45,3.0)(0.55,2.6)(0.65,3.8)(0.75,4.4)(0.85,5.6)(0.95,6.6)
(1.05,7.6)(1.15,9.4)(1.25,10.8)(1.35,12.4)(1.45,14.4)(1.55,16.0)(1.65,17.6)(1.75,19.4)
(1.85,21.0)(1.95,23.0)(2.05,24.6)(2.15,26.0)(2.25,27.0)(1.6,14.0)(1.8,17.0)(2.0,19.0)(2.2,21.0)
(1.9,13.0)(-0.2,0.8)(-0.35,1.3)(-0.55,1.8)(-0.75,2.6)(-0.95,3.4)(-1.15,4.4)(-1.35,5.0)
(-1.55,6.0)(-1.75,7.0)(-1.95,7.6)
(2.8,63)(2.6,51)(5.0,66)(6.2,41)(3.3,75)(6.5,9)(5.1,170)(4.1,93)(3.0,30)(3.6,22)(4.5,12)(2.9,5)(5.5,3)};
\node[anchor=west, inner sep=0pt, font=\fbig\bfseries, text=rokO] at (axis cs:-8.87,171) {Rok bound};
\node[anchor=west, inner sep=0pt, font=\fbig\bfseries, text=gE] at (axis cs:-8.87,143) {Rok free};
\end{axis}
\begin{axis}[zeroline, at={(479pt,-588pt)}, width=231pt, xmin=-10, xmax=10, ymin=0, ymax=200, ytick={50,100,...,200}]
\end{axis}

\node[font=\fbig] at (590pt,-629pt) {TSS signal};
\begin{axis}[volc, at={(479pt,-781pt)}, width=231pt, xmin=-10, xmax=10, ymin=0, ymax=200,
  xtick={-10,-5,0,5,10}, xticklabels={-10,-5,0,5,10}, ytick={0,50,...,200},
  ylabel={-Log10 p-value}, ylabel style={at={(axis description cs:-0.203,0.5)}, anchor=center}]
\addplot[pts, ptGr] coordinates {
(-0.2,0.5)(-0.4,1.5)(-0.6,3)(-0.7,1)(-0.8,5)(-0.9,2.5)(-1.0,7)(-1.1,4)(-1.2,9)(-1.3,2)(-1.4,11)
(-1.4,6)(-1.5,13)(-1.6,8)(-1.7,15)(-1.7,4)(-1.8,17)(-1.9,10)(-2.0,19)(-2.0,6)(-2.1,13)(-2.2,21)
(-2.3,9)(-2.4,16)(-2.5,3)(-2.6,12)(-2.7,7)(-2.8,18)(-3.0,10)(-3.1,4)(-3.3,14)(-3.4,7)(-3.6,9)
(-3.8,3)(-4.0,5)(-2.3,33)(-6.2,6)(-5.3,3)(-4.7,2)(-5.8,2)(-4.4,1.5)(-3.2,24)
(-1.15,6)(-1.35,8)(-1.55,9)(-1.75,11)(-1.95,12)(-2.15,16)(-2.35,18)(-2.55,14)(-2.75,10)
(-2.95,13)(-3.2,8)(-3.5,11)(-3.7,6)(-4.2,3)(-2.0,22)(-1.6,17)
(0.2,0.5)(0.4,1.5)(0.6,3)(0.8,1.5)(0.9,5)(1.0,2.5)(1.2,7)(1.3,3.5)(1.4,9)(1.5,5)(1.6,11)(1.7,2)
(1.8,7)(1.9,13)(2.0,4)(2.1,9)(2.2,15)(2.3,6)(2.5,11)(2.6,3)(2.8,8)(3.0,5)(3.2,10)(3.5,3)(3.5,47)
(4.5,37)(4.5,16)(3.9,6)(4.2,9)(3.0,14)};
\addplot[pts, ptO] coordinates {
(-0.1,0.2)(-0.2,0.6)(-0.3,1.2)(-0.4,0.5)(-0.4,2.0)(-0.5,2.8)(-0.6,1.2)(-0.6,3.6)(-0.7,4.6)
(-0.8,2.0)(-0.8,5.6)(-0.9,6.6)(-1.0,3.0)(-1.0,7.6)(-1.1,8.6)(-1.2,4.2)(-1.2,9.6)(-1.3,10.6)
(-1.4,5.6)(-1.4,11.6)(-1.5,12.6)(-1.6,7.0)(-1.6,13.6)(-1.7,14.6)(-1.8,9.0)(-1.8,15.6)(-1.9,12.0)
(-2.0,16.4)(-2.1,10.0)(-2.2,14.0)(-2.4,8.0)(-2.6,12.0)(-2.8,5.0)(-3.0,9.0)(-3.3,23.0)(-3.2,3.0)
(-1.8,18.0)
(-0.15,0.4)(-0.25,0.9)(-0.35,1.6)(-0.45,2.4)(-0.55,2.0)(-0.65,3.0)(-0.75,3.6)(-0.85,4.4)
(-0.95,5.2)(-1.05,6.0)(-1.15,7.0)(-1.25,8.0)(-1.35,9.0)(-1.45,10.0)(-1.55,11.0)(-1.65,12.0)
(-1.75,13.0)(-1.85,14.0)(-1.95,14.8)(-2.05,13.0)(-2.15,12.0)(-2.3,11.0)(-2.5,10.0)
(0.1,0.2)(0.2,0.5)(0.3,0.9)(0.4,1.4)(0.5,0.6)(0.5,2.0)(0.6,2.6)(0.7,1.2)(0.7,3.4)(0.8,4.2)
(0.9,2.0)(1.0,5.0)(1.1,3.0)(1.2,6.0)(1.3,4.0)(1.4,7.2)(1.5,2.4)(1.6,8.4)(1.7,5.4)(1.8,10.0)
(1.9,3.6)(2.0,23.0)(2.1,12.0)(2.2,6.0)(2.3,18.0)(2.4,9.0)(2.5,4.0)(2.6,14.0)(2.8,20.0)(3.0,7.0)
(0.15,0.4)(0.25,0.8)(0.35,1.2)(0.45,1.8)(0.55,1.4)(0.65,2.0)(0.75,2.6)(0.85,3.0)(0.95,3.6)
(1.05,4.0)(1.15,4.6)(1.25,5.0)(1.35,5.8)(1.45,6.4)(1.55,5.4)(1.65,7.0)(1.75,7.8)
(4.5,15.0)(5.4,94.0)(6.7,71.0)(5.6,3.0)(3.4,2.0)};
\end{axis}
\begin{axis}[zeroline, at={(479pt,-781pt)}, width=231pt, xmin=-10, xmax=10, ymin=0, ymax=200, ytick={50,100,...,200}]
\end{axis}
\node[font=\fbig] at (587.5pt,-808pt) {Log fold change \textit{Δrok}/wild type};

% ================= pies c
\node[font=\fbig] at (205pt,-856pt) {TSS distribution in \textit{E. coli}};
\node[font=\fbig] at (152pt,-881pt) {wild type};
\node[font=\fbig] at (267pt,-881pt) {\textit{Δhns}};
\node[anchor=west, inner sep=0pt, font=\fbig\bfseries, text=hnsG] at (23pt,-925pt) {H-NS bound};
\node[anchor=west, inner sep=0pt, font=\fbig\bfseries, text=gE] at (23pt,-995pt) {H-NS free};

\begin{polaraxis}[pie, at={(152pt,-925pt)}]
\addplot[fill=hnsG, draw=edgeG, line width=0.6pt, domain=0:360, samples=73] {1};
\addplot[fill=lgtG, draw=hnsG, line width=0.6pt, domain=90-360*0.356:90, samples=31] {1} -- (axis cs:0,0) -- cycle;
\end{polaraxis}
\begin{polaraxis}[pie, at={(267pt,-925pt)}]
\addplot[fill=hnsG, draw=edgeG, line width=0.6pt, domain=0:360, samples=73] {1};
\addplot[fill=lgtG, draw=hnsG, line width=0.6pt, domain=90-360*0.272:90, samples=31] {1} -- (axis cs:0,0) -- cycle;
\end{polaraxis}
\begin{polaraxis}[pie, at={(152pt,-995pt)}]
\addplot[fill=gD, draw=gE, line width=0.6pt, domain=0:360, samples=73] {1};
\addplot[fill=gL, draw=gE, line width=0.6pt, domain=90-360*0.344:90, samples=31] {1} -- (axis cs:0,0) -- cycle;
\end{polaraxis}
\begin{polaraxis}[pie, at={(267pt,-995pt)}]
\addplot[fill=gD, draw=gE, line width=0.6pt, domain=0:360, samples=73] {1};
\addplot[fill=gL, draw=gE, line width=0.6pt, domain=90-360*0.356:90, samples=31] {1} -- (axis cs:0,0) -- cycle;
\end{polaraxis}

% ================= pies f
\node[font=\fbig] at (587pt,-856pt) {TSS distribution in \textit{B. subtilis}};
\node[font=\fbig] at (538pt,-881pt) {wild type};
\node[font=\fbig] at (641pt,-881pt) {\textit{Δrok}};
\node[anchor=west, inner sep=0pt, font=\fbig\bfseries, text=rokO] at (415pt,-925pt) {Rok bound};
\node[anchor=west, inner sep=0pt, font=\fbig\bfseries, text=gE] at (415pt,-995pt) {Rok free};

\begin{polaraxis}[pie, at={(538pt,-925pt)}]
\addplot[fill=lgtO, draw=rokO, line width=0.6pt, domain=0:360, samples=73] {1};
\addplot[fill=rokO, draw=rokO, line width=0.6pt, domain=90-360*0.203:90, samples=31] {1} -- (axis cs:0,0) -- cycle;
\end{polaraxis}
\begin{polaraxis}[pie, at={(641pt,-925pt)}]
\addplot[fill=lgtO, draw=rokO, line width=0.6pt, domain=0:360, samples=73] {1};
\addplot[fill=rokO, draw=rokO, line width=0.6pt, domain=90-360*0.203:90, samples=31] {1} -- (axis cs:0,0) -- cycle;
\end{polaraxis}
\begin{polaraxis}[pie, at={(538pt,-995pt)}]
\addplot[fill=gL, draw=gE, line width=0.6pt, domain=0:360, samples=73] {1};
\addplot[fill=gD, draw=gE, line width=0.6pt, domain=90-360*0.436:90, samples=31] {1} -- (axis cs:0,0) -- cycle;
\end{polaraxis}
\begin{polaraxis}[pie, at={(641pt,-995pt)}]
\addplot[fill=gL, draw=gE, line width=0.6pt, domain=0:360, samples=73] {1};
\addplot[fill=gD, draw=gE, line width=0.6pt, domain=90-360*0.431:90, samples=31] {1} -- (axis cs:0,0) -- cycle;
\end{polaraxis}

% ================= bottom legend
\fill[hnsG] (296pt,-1029pt) rectangle ++(8pt,-8pt);
\fill[rokO] (308pt,-1029pt) rectangle ++(8pt,-8pt);
\fill[gD] (319pt,-1029pt) rectangle ++(8pt,-8pt);
\node[anchor=west, inner sep=0pt, font=\fontsize{12.5}{14}\selectfont] at (331pt,-1033pt) {intragenic};
\filldraw[fill=lgtG, draw=edgeG, line width=0.6pt] (404.3pt,-1029.3pt) rectangle ++(7.4pt,-7.4pt);
\fill[lgtO] (415pt,-1029pt) rectangle ++(8pt,-8pt);
\fill[gL] (427pt,-1029pt) rectangle ++(8pt,-8pt);
\node[anchor=west, inner sep=0pt, font=\fontsize{12.5}{14}\selectfont] at (439pt,-1033pt) {intergenic};
\end{tikzpicture}
\end{document}
